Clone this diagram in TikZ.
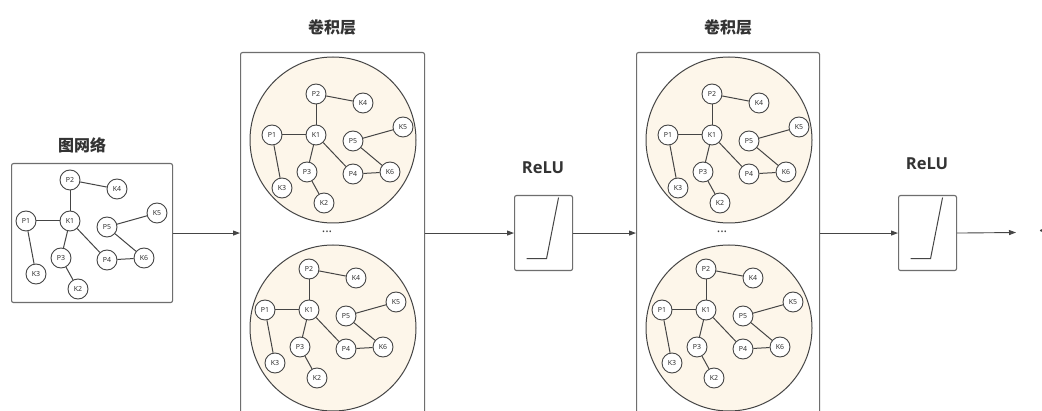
\documentclass[tikz,border=0pt]{standalone}
\usepackage{fontspec}
\setmainfont{Noto Sans}
\newfontfamily\cjk{Noto Sans CJK SC}
\newfontfamily\relufont{Open Sans}
\usetikzlibrary{arrows.meta,calc}
\definecolor{linec}{HTML}{454545}
\definecolor{boxc}{HTML}{6E6E6E}
\definecolor{cream}{HTML}{FDF6EA}
\newcommand\mygraph[2]{%
\begin{scope}[shift={#2}]
 \node[gn] (#1P2) at (0,0) {P2};
 \node[gn] (#1K4) at (47,9) {K4};
 \node[gn] (#1P1) at (-44,41) {P1};
 \node[gn] (#1K1) at (0,41) {K1};
 \node[gn] (#1P5) at (37,47) {P5};
 \node[gn] (#1K5) at (87,33) {K5};
 \node[gn] (#1P3) at (-9,78) {P3};
 \node[gn] (#1P4) at (37,80) {P4};
 \node[gn] (#1K6) at (74,78) {K6};
 \node[gn] (#1K3) at (-34,94) {K3};
 \node[gn] (#1K2) at (8,109) {K2};
 \draw[ge] (#1P2) -- (#1K4);
 \draw[ge] (#1P2) -- (#1K1);
 \draw[ge] (#1P1) -- (#1K1);
 \draw[ge] (#1P1) -- (#1K3);
 \draw[ge] (#1K1) -- (#1P3);
 \draw[ge] (#1K1) -- (#1P4);
 \draw[ge] (#1P3) -- (#1K2);
 \draw[ge] (#1P4) -- (#1K6);
 \draw[ge] (#1P5) -- (#1K5);
 \draw[ge] (#1P5) -- (#1K6);
\end{scope}}
\begin{document}
\begin{tikzpicture}[x=1pt,y=-1pt,
  gn/.style={circle,draw=linec,fill=white,line width=0.9pt,minimum size=20pt,inner sep=0pt,font=\fontsize{7}{7}\selectfont,text=black!80},
  ge/.style={draw=linec,line width=1pt},
  panel/.style={draw=boxc,line width=1.1pt,rounded corners=2pt,inner sep=0pt},
  bigc/.style={circle,draw=linec,fill=cream,line width=1pt,minimum size=166pt,inner sep=0pt},
  arr/.style={draw=linec,line width=0.9pt,-{Triangle[length=7pt,width=5pt]}},
  ttl/.style={font=\cjk\bfseries\fontsize{16}{18}\selectfont,text=black!80},
  rl/.style={font=\relufont\bfseries\fontsize{16.5}{18}\selectfont,text=black!80},
  dots/.style={font=\fontsize{13}{13}\selectfont\bfseries,text=black!75}]
\useasboundingbox (0,0) rectangle (1042,411);
\clip (0,0) rectangle (1042,411);
\fill[white] (0,0) rectangle (1042,411);
% input graph
\node[ttl] (t0) at (82,145) {图网络};
\node[panel,minimum width=161pt,minimum height=139pt,anchor=north west] (lbox) at (11,163) {};
\mygraph{a}{(70,180)}
% conv layer 1
\node[ttl] (t1) at (332,27) {卷积层};
\node[panel,minimum width=184pt,minimum height=380pt,anchor=north west] (conv1) at (240,52) {};
\node[bigc] (c1a) at (333,140) {};
\node[bigc] (c1b) at (333,328) {};
\mygraph{b}{(316,94)}
\mygraph{c}{(309,269)}
\node[dots] (d1) at (327,232) {...};
% relu 1
\node[rl] (r1t) at (543,168) {ReLU};
\node[panel,minimum width=58pt,minimum height=75pt,anchor=north west] (relu1) at (514,195) {};
\draw[ge] ($(relu1.center)+(-17,25.5)$) -- ++(20,0) -- ++(12,-61);
% conv layer 2
\node[ttl] (t2) at (728,27) {卷积层};
\node[panel,minimum width=183pt,minimum height=380pt,anchor=north west] (conv2) at (636,52) {};
\node[bigc] (c2a) at (729,140) {};
\node[bigc] (c2b) at (729,328) {};
\mygraph{d}{(712,94)}
\mygraph{e}{(706,269)}
\node[dots] (d2) at (722,232) {...};
% relu 2
\node[rl] (r2t) at (927,164) {ReLU};
\node[panel,minimum width=58pt,minimum height=75pt,anchor=north west] (relu2) at (898,195) {};
\draw[ge] ($(relu2.center)+(-17,25.5)$) -- ++(20,0) -- ++(12,-61);
\coordinate (end) at (1016,232.5);
\fill[black!75] (1041.2,230.5) circle (1.3pt);
% arrows
\draw[arr] (lbox.east) -- (lbox.east -| conv1.west);
\draw[arr] (relu1.west -| conv1.east) -- (relu1.west);
\draw[arr] (relu1.east) -- (relu1.east -| conv2.west);
\draw[arr] (relu2.west -| conv2.east) -- (relu2.west);
\draw[arr] (relu2.east) -- (end);
\end{tikzpicture}
\end{document}
